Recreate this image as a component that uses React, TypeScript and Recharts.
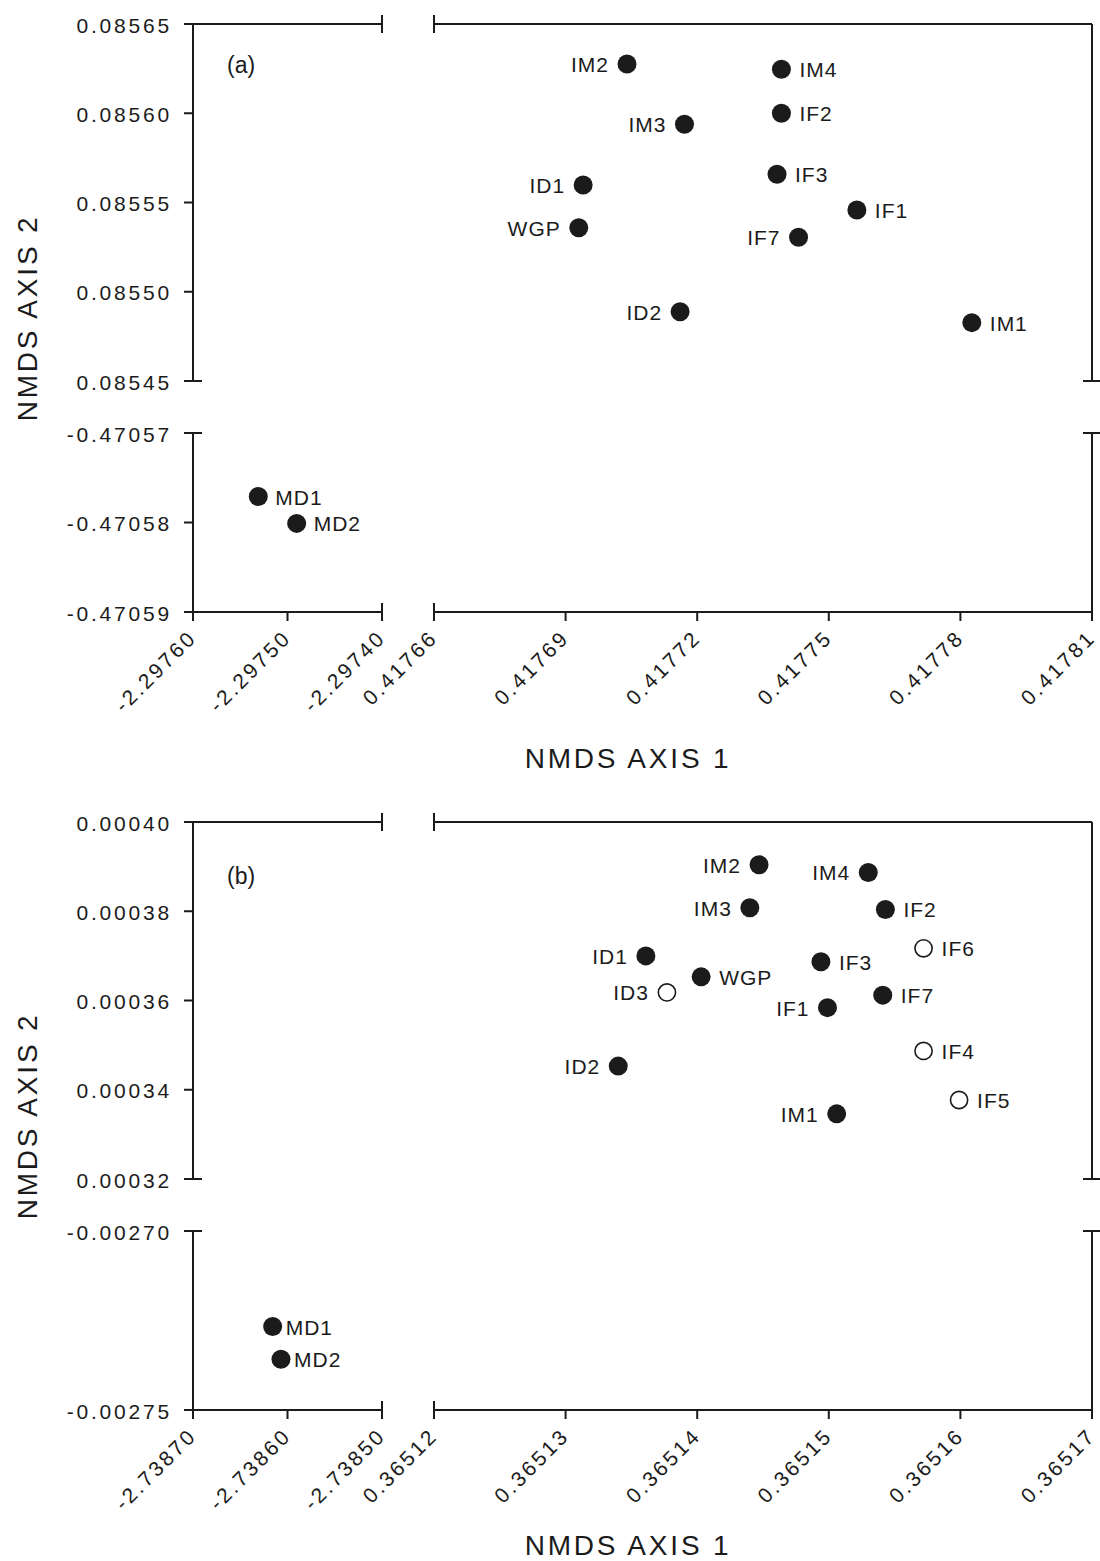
import React from 'react'
import { ScatterChart, Scatter, XAxis, YAxis } from 'recharts'

// NMDS ordination, two panels with broken axes. Each panel = 4 small charts.
const PAGE_W = 1100
const PAGE_H = 1561
const INK = '#1b1b1b'
const FONT = '"Liberation Sans", Arial, Helvetica, sans-serif'

// ---- panel (a)
const A_SITES = ['IM2', 'IM4', 'IF2', 'IM3', 'ID1', 'IF3', 'IF1', 'WGP', 'IF7', 'ID2', 'IM1']
const A_X = [0.417704, 0.4177392, 0.4177392, 0.4177171, 0.417694, 0.4177382, 0.4177564, 0.417693, 0.4177431, 0.4177161, 0.4177826]
const A_Y = [0.0856276, 0.0856246, 0.0856, 0.0855938, 0.0855598, 0.0855658, 0.0855458, 0.0855359, 0.0855305, 0.0854888, 0.0854827]
const A_SIDE = ['L', 'R', 'R', 'L', 'L', 'R', 'R', 'L', 'L', 'L', 'R']
const A_OUT_SITES = ['MD1', 'MD2']
const A_OUT_X = [-2.2975309, -2.2974903]
const A_OUT_Y = [-0.4705771, -0.4705801]
const A_OUT_SIDE = ['R', 'R']

const A_XL_TICKS = [-2.2976, -2.2975, -2.2974]
const A_XR_TICKS = [0.41766, 0.41769, 0.41772, 0.41775, 0.41778, 0.41781]
const A_YT_TICKS = [0.08545, 0.0855, 0.08555, 0.0856, 0.08565]
const A_YB_TICKS = [-0.47059, -0.47058, -0.47057]

// ---- panel (b)
const B_SITES = ['IM2', 'IM4', 'IF2', 'IM3', 'ID1', 'IF6', 'IF3', 'WGP', 'ID3', 'IF7', 'IF1', 'IF4', 'ID2', 'IF5', 'IM1']
const B_X = [0.3651447, 0.365153, 0.3651543, 0.365144, 0.3651361, 0.3651572, 0.3651494, 0.3651403, 0.3651377, 0.3651541, 0.3651499, 0.3651572, 0.365134, 0.3651599, 0.3651506]
const B_Y = [0.0003904, 0.0003887, 0.0003804, 0.0003808, 0.00037, 0.0003717, 0.0003687, 0.0003653, 0.0003618, 0.0003612, 0.0003584, 0.0003487, 0.0003453, 0.0003377, 0.0003346]
const B_SIDE = ['L', 'L', 'R', 'L', 'L', 'R', 'R', 'R', 'L', 'R', 'L', 'R', 'L', 'R', 'L']
const B_OPEN = ['IF6', 'ID3', 'IF4', 'IF5']
const B_OUT_SITES = ['MD1', 'MD2']
const B_OUT_X = [-2.7386157, -2.7386069]
const B_OUT_Y = [-0.0027267, -0.0027358]
const B_OUT_SIDE = ['R', 'R']

const B_XL_TICKS = [-2.7387, -2.7386, -2.7385]
const B_XR_TICKS = [0.36512, 0.36513, 0.36514, 0.36515, 0.36516, 0.36517]
const B_YT_TICKS = [0.00032, 0.00034, 0.00036, 0.00038, 0.0004]
const B_YB_TICKS = [-0.00275, -0.0027]

const AX = 10 // size given to every visible axis
const TICK = 9
const same = (a: number, b: number) => Math.abs(a - b) < 1e-12

type Rect = { x0: number; x1: number; y0: number; y1: number }
type Pt = { name: string; x: number; y: number; side: string; open: boolean }

function points(names: string[], xs: number[], ys: number[], sides: string[], open: string[] = []): Pt[] {
  return names.map((n, i) => ({ name: n, x: xs[i], y: ys[i], side: sides[i], open: open.includes(n) }))
}

const makeShape = (gap: number) => (p: any) => {
  const { cx, cy, payload } = p
  const right = payload.side === 'R'
  return (
    <g>
      {payload.open
        ? <circle cx={cx} cy={cy} r={8.6} fill="#fff" stroke={INK} strokeWidth={1.6} />
        : <circle cx={cx} cy={cy} r={9.5} fill={INK} />}
      <text x={right ? cx + gap : cx - gap} y={cy + 8} textAnchor={right ? 'start' : 'end'}
        fontSize={21} fontFamily={FONT} letterSpacing={1} fill={INK}>{payload.name}</text>
    </g>
  )
}

function XTick(props: any) {
  const { x, y, payload, orient, brk, labels } = props
  const v = payload.value
  const isBrk = brk !== undefined && same(v, brk)
  const s = orient === 'bottom' ? 1 : -1
  const tx = x + 5
  const ty = y + 27
  return (
    <g>
      {(isBrk || labels) && (
        <line x1={x} x2={x} y1={isBrk ? y - s * TICK : y} y2={y + s * TICK} stroke={INK} strokeWidth={2} />
      )}
      {labels && (
        <text x={tx} y={ty} textAnchor="end" transform={`rotate(-45 ${tx} ${ty})`}
          fontSize={21} fontFamily={FONT} letterSpacing={2.8} fill={INK}>{v.toFixed(5)}</text>
      )}
    </g>
  )
}

function YTick(props: any) {
  const { x, y, payload, orient, brk, labels } = props
  const v = payload.value
  const isBrk = brk !== undefined && same(v, brk)
  const s = orient === 'left' ? -1 : 1
  return (
    <g>
      {(isBrk || labels) && (
        <line y1={y} y2={y} x1={isBrk ? x - s * TICK : x} x2={x + s * TICK} stroke={INK} strokeWidth={2} />
      )}
      {labels && (
        <text x={x - 21} y={y + 8.5} textAnchor="end" fontSize={21} fontFamily={FONT}
          letterSpacing={2.8} fill={INK}>{v.toFixed(5)}</text>
      )}
    </g>
  )
}

type BoxProps = {
  rect: Rect
  xDomain: [number, number]
  yDomain: [number, number]
  xOrient: 'top' | 'bottom'
  yOrient: 'left' | 'right'
  xTicks: number[]
  yTicks: number[]
  xLabels?: boolean
  yLabels?: boolean
  xBrk?: number
  yBrk?: number
  data?: Pt[]
  gap?: number
}

function Box({ rect, xDomain, yDomain, xOrient, yOrient, xTicks, yTicks, xLabels = false, yLabels = false, xBrk, yBrk, data = [], gap = 18 }: BoxProps) {
  const margin = {
    left: rect.x0 - (yOrient === 'left' ? AX : 0),
    right: PAGE_W - rect.x1 - (yOrient === 'right' ? AX : 0),
    top: rect.y0 - (xOrient === 'top' ? AX : 0),
    bottom: PAGE_H - rect.y1 - (xOrient === 'bottom' ? AX : 0),
  }
  const line = { stroke: INK, strokeWidth: 2 }
  return (
    <div style={{ position: 'absolute', left: 0, top: 0 }}>
      <ScatterChart width={PAGE_W} height={PAGE_H} margin={margin}>
        <XAxis type="number" dataKey="x" orientation={xOrient} height={AX} domain={xDomain}
          allowDataOverflow ticks={xTicks} interval={0} tickSize={0} tickMargin={0} tickLine={false}
          axisLine={line} tick={<XTick orient={xOrient} brk={xBrk} labels={xLabels} />} />
        <YAxis type="number" dataKey="y" orientation={yOrient} width={AX} domain={yDomain}
          allowDataOverflow ticks={yTicks} interval={0} tickSize={0} tickMargin={0} tickLine={false}
          axisLine={line} tick={<YTick orient={yOrient} brk={yBrk} labels={yLabels} />} />
        <Scatter data={data} shape={makeShape(gap)} isAnimationActive={false} />
      </ScatterChart>
    </div>
  )
}

const LEFT = { x0: 193, x1: 382 }
const RIGHT = { x0: 434, x1: 1092 }

function Panel({ dy, xl, xr, yt, yb, main, out, outGap, letter, letterY }: any) {
  const top = { y0: 24 + dy, y1: 381 + dy }
  const bot = { y0: 433 + dy, y1: 612 + dy }
  const xlD: [number, number] = [xl[0], xl[xl.length - 1]]
  const xrD: [number, number] = [xr[0], xr[xr.length - 1]]
  const ytD: [number, number] = [yt[0], yt[yt.length - 1]]
  const ybD: [number, number] = [yb[0], yb[yb.length - 1]]
  return (
    <>
      <Box rect={{ ...LEFT, ...top }} xDomain={xlD} yDomain={ytD} xOrient="top" yOrient="left"
        xTicks={[xlD[1]]} xBrk={xlD[1]} yTicks={yt} yLabels yBrk={ytD[0]} />
      <Box rect={{ ...RIGHT, ...top }} xDomain={xrD} yDomain={ytD} xOrient="top" yOrient="right"
        xTicks={[xrD[0]]} xBrk={xrD[0]} yTicks={[ytD[0]]} yBrk={ytD[0]} data={main} />
      <Box rect={{ ...LEFT, ...bot }} xDomain={xlD} yDomain={ybD} xOrient="bottom" yOrient="left"
        xTicks={xl} xLabels xBrk={xlD[1]} yTicks={yb} yLabels yBrk={ybD[1]} data={out} gap={outGap} />
      <Box rect={{ ...RIGHT, ...bot }} xDomain={xrD} yDomain={ybD} xOrient="bottom" yOrient="right"
        xTicks={xr} xLabels xBrk={xrD[0]} yTicks={[ybD[1]]} yBrk={ybD[1]} />
      <svg width={PAGE_W} height={PAGE_H} style={{ position: 'absolute', left: 0, top: 0, pointerEvents: 'none' }}>
        <text x={227} y={letterY} fontSize={23} fontFamily={FONT} fill={INK}>{letter}</text>
      </svg>
    </>
  )
}

export default function App() {
  const aMain = points(A_SITES, A_X, A_Y, A_SIDE)
  const aOut = points(A_OUT_SITES, A_OUT_X, A_OUT_Y, A_OUT_SIDE)
  const bMain = points(B_SITES, B_X, B_Y, B_SIDE, B_OPEN)
  const bOut = points(B_OUT_SITES, B_OUT_X, B_OUT_Y, B_OUT_SIDE)
  const title = { fontSize: 28, fontFamily: FONT, letterSpacing: 2.8, fill: INK } as const
  return (
    <div style={{ position: 'absolute', left: 0, top: 0, width: PAGE_W, height: PAGE_H, background: '#fff' }}>
      <Panel dy={0} xl={A_XL_TICKS} xr={A_XR_TICKS} yt={A_YT_TICKS} yb={A_YB_TICKS}
        main={aMain} out={aOut} outGap={17} letter="(a)" letterY={73} />
      <Panel dy={798} xl={B_XL_TICKS} xr={B_XR_TICKS} yt={B_YT_TICKS} yb={B_YB_TICKS}
        main={bMain} out={bOut} outGap={13} letter="(b)" letterY={884} />
      <svg width={PAGE_W} height={PAGE_H} style={{ position: 'absolute', left: 0, top: 0, pointerEvents: 'none' }}>
        <text x={628} y={768} textAnchor="middle" {...title}>NMDS AXIS 1</text>
        <text x={628} y={1555} textAnchor="middle" {...title}>NMDS AXIS 1</text>
        <text x={37} y={318} textAnchor="middle" transform="rotate(-90 37 318)" {...title}>NMDS AXIS 2</text>
        <text x={37} y={1116} textAnchor="middle" transform="rotate(-90 37 1116)" {...title}>NMDS AXIS 2</text>
      </svg>
    </div>
  )
}
